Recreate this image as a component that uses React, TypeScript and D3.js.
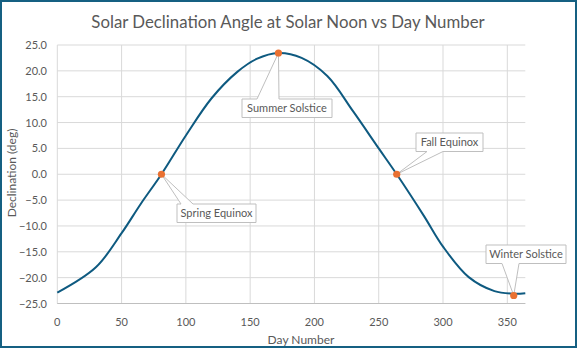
import * as d3 from "d3";
import React, { useEffect, useRef } from "react";

// values
const days = [0, 30, 50, 65, 81, 100, 120, 140, 155, 172, 190, 210, 230, 250, 264, 285, 300, 320, 340, 355, 364];
const declination = [-22.9, -18.0, -11.4, -5.7, 0, 7.5, 14.7, 19.8, 22.3, 23.45, 22.5, 19.0, 12.2, 5.0, 0, -8.0, -14.0, -19.9, -22.6, -23.1, -23.0];

const eventNames = ["Spring Equinox", "Summer Solstice", "Fall Equinox", "Winter Solstice"];
const eventDays = [81, 172, 264, 355];
const eventValues = [0, 23.45, 0, -23.45];

const xTicks = [0, 50, 100, 150, 200, 250, 300, 350];
const yTicks = [-25, -20, -15, -10, -5, 0, 5, 10, 15, 20, 25];

// callout box placement (left, top, width, wedge start/end on box edge)
const callouts = [
  { bx: 177, by: 204, bw: 79, edge: "top", w0: 181, w1: 193 },
  { bx: 242, by: 99, bw: 90, edge: "top", w0: 257, w1: 279 },
  { bx: 416, by: 133, bw: 67, edge: "bottom", w0: 427, w1: 443 },
  { bx: 486, by: 245, bw: 80, edge: "bottom", w0: 502, w1: 519 },
];

const W = 577;
const H = 350;
const FONT = "Lato, 'Open Sans', sans-serif";

const App: React.FC = () => {
  const svgRef = useRef<SVGSVGElement | null>(null);

  useEffect(() => {
    const svg = d3.select(svgRef.current);
    svg.selectAll("*").remove();

    const x = d3.scaleLinear().domain([0, 364]).range([57.3, 525.3]);
    const y = d3.scaleLinear().domain([-25, 25]).range([303.5, 45]);

    svg.append("rect").attr("width", W).attr("height", H).attr("fill", "#fff");

    // frame
    svg
      .append("rect")
      .attr("x", 1)
      .attr("y", 1)
      .attr("width", W - 2)
      .attr("height", H - 4)
      .attr("fill", "none")
      .attr("stroke", "#156082")
      .attr("stroke-width", 2);

    // title
    svg
      .append("text")
      .attr("x", 288)
      .attr("y", 28)
      .attr("text-anchor", "middle")
      .attr("font-family", FONT)
      .attr("font-size", 16.8)
      .attr("fill", "#595959")
      .text("Solar Declination Angle at Solar Noon vs Day Number");

    // gridlines
    const grid = svg.append("g").attr("stroke", "#d9d9d9").attr("stroke-width", 1);
    yTicks.forEach((t) => {
      grid
        .append("line")
        .attr("x1", x(0))
        .attr("x2", x(364))
        .attr("y1", y(t))
        .attr("y2", y(t));
    });
    xTicks.forEach((t) => {
      grid
        .append("line")
        .attr("x1", x(t))
        .attr("x2", x(t))
        .attr("y1", y(25))
        .attr("y2", y(-25));
    });

    // x axis line
    svg
      .append("line")
      .attr("x1", x(0))
      .attr("x2", x(364))
      .attr("y1", y(-25))
      .attr("y2", y(-25))
      .attr("stroke", "#bfbfbf")
      .attr("stroke-width", 1.2);

    // tick labels
    const tickG = svg
      .append("g")
      .attr("font-family", FONT)
      .attr("font-size", 11)
      .attr("fill", "#595959");
    yTicks.forEach((t) => {
      tickG
        .append("text")
        .attr("x", 47)
        .attr("y", y(t) + 4)
        .attr("text-anchor", "end")
        .text(d3.format(".1f")(t));
    });
    xTicks.forEach((t) => {
      tickG
        .append("text")
        .attr("x", x(t))
        .attr("y", 326)
        .attr("text-anchor", "middle")
        .text(String(t));
    });

    // axis titles
    svg
      .append("text")
      .attr("transform", `translate(16,173) rotate(-90)`)
      .attr("text-anchor", "middle")
      .attr("font-family", FONT)
      .attr("font-size", 12)
      .attr("fill", "#595959")
      .text("Declination (deg)");
    svg
      .append("text")
      .attr("x", 301)
      .attr("y", 344)
      .attr("text-anchor", "middle")
      .attr("font-family", FONT)
      .attr("font-size", 12)
      .attr("fill", "#595959")
      .text("Day Number");

    // curve
    const pts = days.map((d, i) => [d, declination[i]] as [number, number]);
    const line = d3
      .line<[number, number]>()
      .x((d) => x(d[0]))
      .y((d) => y(d[1]))
      .curve(d3.curveCatmullRom.alpha(0.5));
    svg
      .append("path")
      .datum(pts)
      .attr("fill", "none")
      .attr("stroke", "#0e5a80")
      .attr("stroke-width", 2)
      .attr("d", line);

    // callouts
    const boxH = 18.5;
    eventNames.forEach((name, i) => {
      const c = callouts[i];
      const px = x(eventDays[i]);
      const py = y(eventValues[i]);
      const top = c.by;
      const bot = c.by + boxH;
      const l = c.bx;
      const r = c.bx + c.bw;
      let d: string;
      if (c.edge === "top") {
        d = `M${l},${top} L${c.w0},${top} L${px},${py} L${c.w1},${top} L${r},${top} L${r},${bot} L${l},${bot} Z`;
      } else {
        d = `M${l},${top} L${r},${top} L${r},${bot} L${c.w1},${bot} L${px},${py} L${c.w0},${bot} L${l},${bot} Z`;
      }
      svg
        .append("path")
        .attr("d", d)
        .attr("fill", "#fff")
        .attr("stroke", "#bfbfbf")
        .attr("stroke-width", 1);
      svg
        .append("text")
        .attr("x", l + c.bw / 2)
        .attr("y", top + 13)
        .attr("text-anchor", "middle")
        .attr("font-family", FONT)
        .attr("font-size", 11)
        .attr("fill", "#595959")
        .text(name);
    });

    // markers
    eventNames.forEach((_, i) => {
      svg
        .append("circle")
        .attr("cx", x(eventDays[i]))
        .attr("cy", y(eventValues[i]))
        .attr("r", 3.6)
        .attr("fill", "#e97132");
    });
  }, []);

  return (
    <svg
      ref={svgRef}
      width={W}
      height={H}
      style={{ position: "absolute", left: 0, top: 0 }}
    ></svg>
  );
};

export default App;
